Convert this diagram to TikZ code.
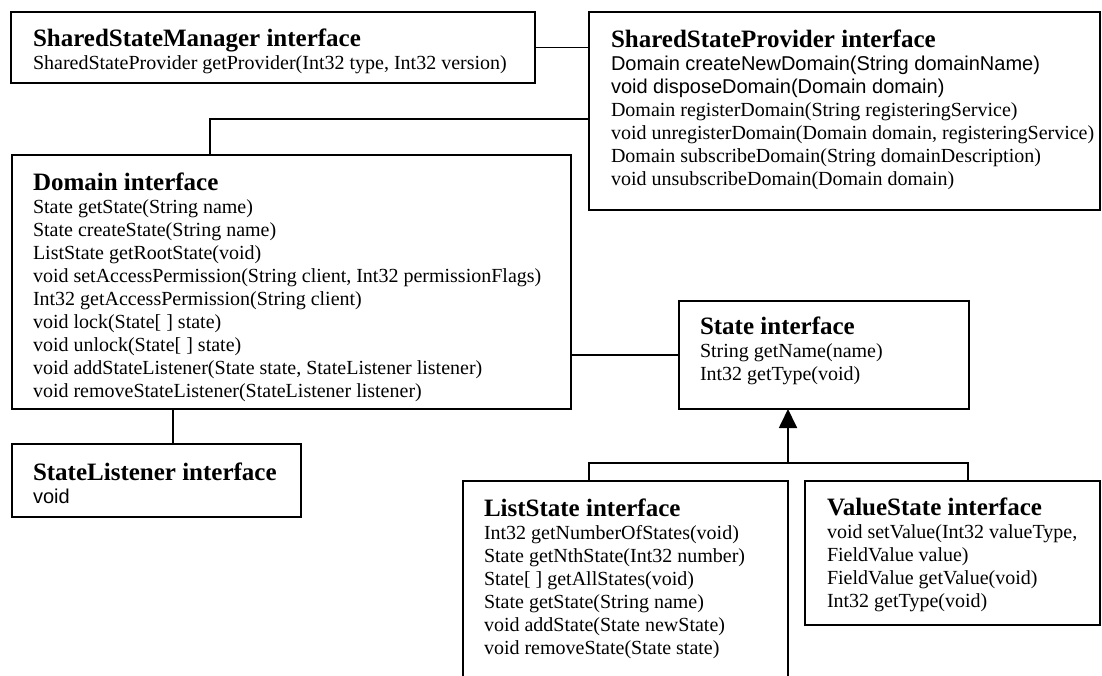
\documentclass[tikz,border=0pt]{standalone}
\usepackage{fontspec}
\setmainfont{Liberation Serif}
\newfontfamily\armfont{Liberation Sans}
\usetikzlibrary{arrows.meta}
% member list of an interface box: title row followed by method rows
\newcommand\umltext[1]{{\fontsize{20}{23}\selectfont\begin{tabular}[t]{@{}l@{}}#1\end{tabular}}}
\newcommand\umltitle[1]{{\fontsize{25}{23}\selectfont\bfseries #1}}
\begin{document}
\begin{tikzpicture}[x=1pt,y=-1pt,
  umlbox/.style={draw, line width=1.8pt, rectangle, anchor=north west,
                 inner sep=0pt, outer sep=0pt},
  txt/.style={anchor=base west, inner sep=0pt, outer sep=0pt},
  link/.style={line width=1.8pt},
  gen/.style={link, -{Triangle[length=19pt,width=18pt]}}]
\useasboundingbox (0,0) rectangle (1102,675);
\clip (0,0) rectangle (1102,675);

% interface boxes
\node[umlbox, minimum width=524pt, minimum height=71pt]  (ssm) at (11,12) {};
\node[umlbox, minimum width=511pt, minimum height=198pt] (ssp) at (589,12) {};
\node[umlbox, minimum width=559pt, minimum height=254pt] (dom) at (12,155) {};
\node[umlbox, minimum width=290pt, minimum height=108pt] (st)  at (679,301) {};
\node[umlbox, minimum width=289pt, minimum height=73pt]  (sl)  at (12,444) {};
\node[umlbox, minimum width=325pt, minimum height=240pt] (ls)  at (463,481) {};
\node[umlbox, minimum width=295pt, minimum height=144pt] (vs)  at (805,481) {};

% box contents
\node[txt] (ssm-t) at (33,46) {\umltext{\umltitle{SharedStateManager interface}\\
  SharedStateProvider getProvider(Int32 type, Int32 version)}};
\node[txt] (ssp-t) at (611,47) {\umltext{\umltitle{SharedStateProvider interface}\\
  \armfont Domain createNewDomain(String domainName)\\
  \armfont void disposeDomain(Domain domain)\\
  Domain registerDomain(String registeringService)\\
  void unregisterDomain(Domain domain, registeringService)\\
  Domain subscribeDomain(String domainDescription)\\
  void unsubscribeDomain(Domain domain)}};
\node[txt] (dom-t) at (33,190) {\umltext{\umltitle{Domain interface}\\
  State getState(String name)\\
  State createState(String name)\\
  ListState getRootState(void)\\
  void setAccessPermission(String client, Int32 permissionFlags)\\
  Int32 getAccessPermission(String client)\\
  void lock(State[ ] state)\\
  void unlock(State[ ] state)\\
  void addStateListener(State state, StateListener listener)\\
  void removeStateListener(StateListener listener)}};
\node[txt] (st-t) at (700,334) {\umltext{\umltitle{State interface}\\
  String getName(name)\\
  Int32 getType(void)}};
\node[txt] (sl-t) at (33,480) {\umltext{\umltitle{StateListener interface}\\
  \armfont void}};
\node[txt] (ls-t) at (484,516) {\umltext{\umltitle{ListState interface}\\
  Int32 getNumberOfStates(void)\\
  State getNthState(Int32 number)\\
  State[ ] getAllStates(void)\\
  State getState(String name)\\
  void addState(State newState)\\
  void removeState(State state)}};
\node[txt] (vs-t) at (827,515) {\umltext{\umltitle{ValueState interface}\\
  void setValue(Int32 valueType,\\
  FieldValue value)\\
  FieldValue getValue(void)\\
  Int32 getType(void)}};

% associations
\coordinate (dj) at (210,119);
\coordinate (slj) at (173,0);
\draw[link] (ssm.east) -- (ssm.east -| ssp.west);
\draw[link] (dom.north -| dj) -- (dj) -- (dj -| ssp.west);
\draw[link] (st.west -| dom.east) -- (st.west);
\draw[link] (dom.south -| slj) -- (sl.north -| slj);

% generalisation of ListState and ValueState to State
\coordinate (lsj) at (589,463);
\coordinate (vsj) at (968,463);
\coordinate (hb) at (788,463);
\draw[link] (ls.north -| lsj) -- (lsj) -- (vsj) -- (vs.north -| vsj);
\draw[gen] (hb) -- (st.south -| hb);
\end{tikzpicture}
\end{document}
